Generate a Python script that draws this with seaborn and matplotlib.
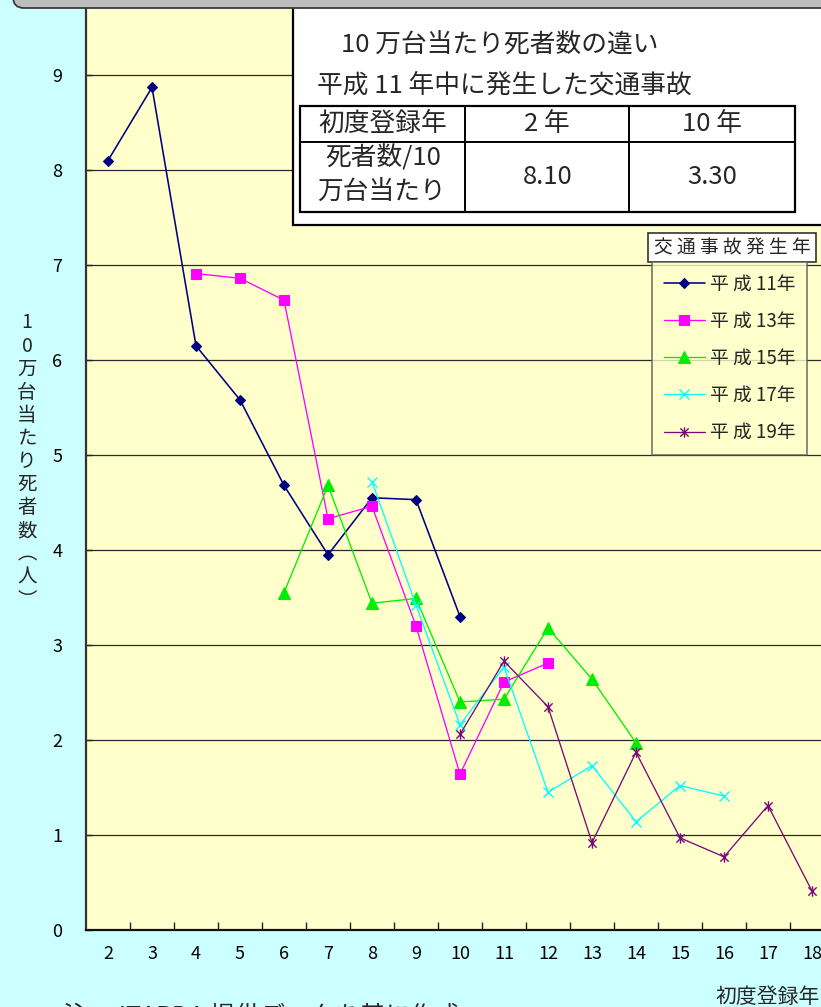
import numpy as np
import pandas as pd
import matplotlib
matplotlib.use("Agg")
import matplotlib.pyplot as plt
import seaborn as sns
from matplotlib.patches import Rectangle, FancyBboxPatch
from matplotlib.path import Path
from matplotlib.ticker import FixedLocator

# First registration year (Heisei) of the vehicles involved, per accident year
reg_h11 = [2, 3, 4, 5, 6, 7, 8, 9, 10]
reg_h13 = [4, 5, 6, 7, 8, 9, 10, 11, 12]
reg_h15 = [6, 7, 8, 9, 10, 11, 12, 13, 14]
reg_h17 = [8, 9, 10, 11, 12, 13, 14, 15, 16]
reg_h19 = [10, 11, 12, 13, 14, 15, 16, 17, 18]

# Deaths per 100,000 vehicles
deaths_h11 = [8.10, 8.87, 6.15, 5.58, 4.68, 3.95, 4.55, 4.53, 3.30]
deaths_h13 = [6.91, 6.86, 6.63, 4.33, 4.46, 3.20, 1.64, 2.61, 2.81]
deaths_h15 = [3.55, 4.68, 3.44, 3.49, 2.40, 2.43, 3.18, 2.64, 1.97]
deaths_h17 = [4.72, 3.42, 2.16, 2.77, 1.45, 1.73, 1.14, 1.52, 1.41]
deaths_h19 = [2.06, 2.83, 2.35, 0.92, 1.87, 0.97, 0.77, 1.31, 0.41]

series_names = ["平 成 11年", "平 成 13年", "平 成 15年", "平 成 17年", "平 成 19年"]
x_categories = list(range(2, 19))
y_ticks = list(range(0, 10))

frames = []
for name, xs, ys in zip(series_names,
                        [reg_h11, reg_h13, reg_h15, reg_h17, reg_h19],
                        [deaths_h11, deaths_h13, deaths_h15, deaths_h17, deaths_h19]):
    frames.append(pd.DataFrame({"series": name, "reg": xs, "deaths": ys}))
df = pd.concat(frames, ignore_index=True)

# Asterisk marker: an X with a vertical stroke
asterisk = Path([(0, -1), (0, 1), (-0.8, -0.8), (0.8, 0.8), (-0.8, 0.8), (0.8, -0.8)],
                [Path.MOVETO, Path.LINETO] * 3)

styles = {
    "平 成 11年": dict(color="#000080", marker="D", ms=5.4, lw=1.15, mew=0.8),
    "平 成 13年": dict(color="#FF00FF", marker="s", ms=7.8, lw=0.95, mew=0.8),
    "平 成 15年": dict(color="#00EE00", marker="^", ms=8.2, lw=0.95, mew=0.8),
    "平 成 17年": dict(color="#00FFFF", marker="x", ms=7.0, lw=0.95, mew=1.0),
    "平 成 19年": dict(color="#7A0A7A", marker=asterisk, ms=7.5, lw=0.95, mew=1.0),
}

sns.set_theme(style="white")
plt.rcParams["font.family"] = ["Noto Sans CJK JP", "DejaVu Sans"]

W, H = 821, 1007
fig = plt.figure(figsize=(W / 100, H / 100), dpi=100)
fig.patch.set_facecolor("#CCFFFF")


def fx(px):
    return px / W


def fy(py):
    return 1 - py / H


# Plot area: x from 86 px over 17 categories of 44 px, y 95 px per unit
ax = fig.add_axes([fx(86), fy(930), 748 / W, 950 / H])
ax.set_facecolor("#FFFFCC")

for name in series_names:
    st = styles[name]
    sub = df[df["series"] == name]
    sns.lineplot(data=sub, x="reg", y="deaths", ax=ax, estimator=None, sort=False,
                 color=st["color"], marker=st["marker"], markersize=st["ms"],
                 linewidth=st["lw"], markeredgewidth=st["mew"],
                 markeredgecolor=st["color"], markerfacecolor=st["color"],
                 label=name, zorder=3)

if ax.get_legend() is not None:
    ax.get_legend().remove()

ax.set_xlim(1.5, 18.5)
ax.set_ylim(0, 10)
ax.set_xticks(x_categories)
ax.set_xticklabels([str(v) for v in x_categories])
ax.xaxis.set_minor_locator(FixedLocator([v + 0.5 for v in x_categories[:-1]]))
ax.set_yticks(y_ticks)
ax.set_yticklabels([str(v) for v in y_ticks])
ax.tick_params(axis="x", which="major", length=0, pad=11, labelsize=13, colors="black")
ax.tick_params(axis="x", which="minor", direction="in", length=6, width=1.0, color="#222222", bottom=True)
ax.tick_params(axis="y", direction="in", length=4, width=1.0, color="#222222", left=True,
               pad=17, labelsize=13, labelcolor="black")
ax.yaxis.grid(True, color="#2A2A2A", linewidth=0.9)
ax.xaxis.grid(False)
ax.set_axisbelow(True)
for side in ["top", "right"]:
    ax.spines[side].set_visible(False)
ax.spines["left"].set_color("#333333")
ax.spines["left"].set_linewidth(1.6)
ax.spines["bottom"].set_color("#111111")
ax.spines["bottom"].set_linewidth(1.6)
ax.set_xlabel("")
ax.set_ylabel("")

# Overlay in pixel coordinates for the annotation boxes and text
ov = fig.add_axes([0, 0, 1, 1], zorder=4)
ov.set_xlim(0, W)
ov.set_ylim(H, 0)
ov.axis("off")
ov.patch.set_alpha(0)

# Summary box with the table
fs_tab = 18.5
ov.add_patch(Rectangle((293, -10), 560, 235, facecolor="white", edgecolor="black", lw=1.6))
ov.text(341, 45, "10 万台当たり死者数の違い", fontsize=fs_tab, va="center", ha="left")
ov.text(317, 86, "平成 11 年中に発生した交通事故", fontsize=fs_tab, va="center", ha="left")
ov.add_patch(Rectangle((300, 106), 495, 106, facecolor="none", edgecolor="black", lw=1.6))
ov.plot([465, 465], [106, 212], color="black", lw=1.4)
ov.plot([629, 629], [106, 212], color="black", lw=1.4)
ov.plot([300, 795], [142, 142], color="black", lw=1.4)
first_reg, last_reg = reg_h11[0], reg_h11[-1]
ov.text(383, 124, "初度登録年", fontsize=fs_tab, va="center", ha="center")
ov.text(547, 124, f"{first_reg} 年", fontsize=fs_tab, va="center", ha="center")
ov.text(712, 124, f"{last_reg} 年", fontsize=fs_tab, va="center", ha="center")
ov.text(383, 158, "死者数/10", fontsize=fs_tab, va="center", ha="center")
ov.text(381, 192, "万台当たり", fontsize=fs_tab, va="center", ha="center")
ov.text(548, 177, f"{deaths_h11[0]:.2f}", fontsize=fs_tab, va="center", ha="center")
ov.text(712, 177, f"{deaths_h11[-1]:.2f}", fontsize=fs_tab, va="center", ha="center")

# Title strip across the top
ov.add_patch(FancyBboxPatch((13, -40), 860, 48, boxstyle="round,pad=0,rounding_size=11",
                            facecolor="#BEBEBE", edgecolor="#3A3A3A", lw=1.3))

# Legend title box
ov.add_patch(Rectangle((648, 233), 168, 29, facecolor="white", edgecolor="#333333", lw=1.2))
ov.text(732, 248, "交 通 事 故 発 生 年", fontsize=13.5, va="center", ha="center")

# Vertical axis title, one character per row
ylabel_chars = ["1", "0", "万", "台", "当", "た", "り", "死", "者", "数", "︵", "人", "︶"]
for i, ch in enumerate(ylabel_chars):
    ov.text(27, 323 + i * 23.1, ch, fontsize=14, va="center", ha="center")

# Axis caption and source note
ov.text(820, 986, "初度登録年", fontsize=15, va="top", ha="right")
ov.text(63, 1004, "注： ITARDA 提供データを基に作成", fontsize=18, va="top", ha="left")

handles, labels = ax.get_legend_handles_labels()
leg = fig.legend(handles, labels, loc="upper left",
                 bbox_to_anchor=(fx(652), fy(262)), bbox_transform=fig.transFigure,
                 borderaxespad=0, frameon=True, fancybox=False, fontsize=13.5,
                 handlelength=2.2, handletextpad=0.28, labelspacing=0.86, borderpad=0.62)
leg.get_frame().set_facecolor("#FFFFCC")
leg.get_frame().set_edgecolor("#555555")
leg.get_frame().set_linewidth(1.2)
leg.set_zorder(10)

fig.savefig("out.png", dpi=100, facecolor=fig.get_facecolor())
